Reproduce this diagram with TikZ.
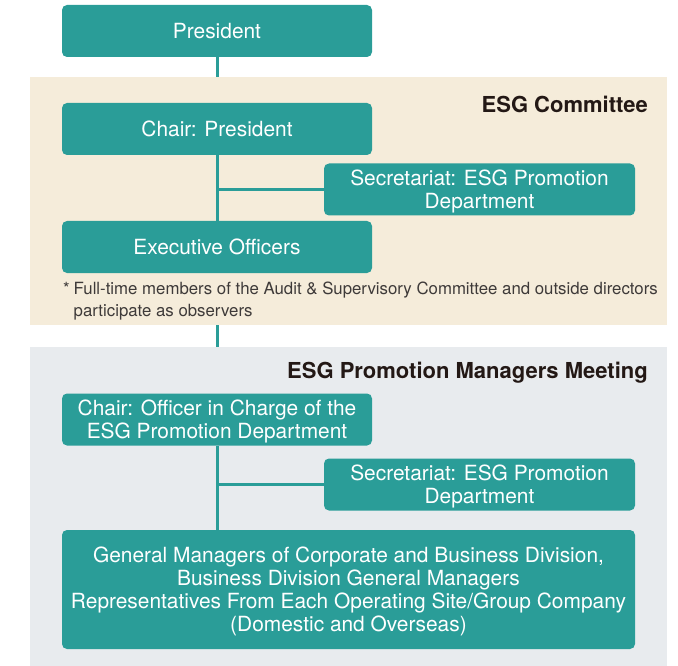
\documentclass[tikz,border=0pt]{standalone}
\usepackage{fontspec}
\setmainfont{TeX Gyre Heros}
\definecolor{teal1}{HTML}{2A9D98}
\definecolor{beigebg}{HTML}{F5ECDA}
\definecolor{graybg}{HTML}{E8EBEE}
\definecolor{titlecol}{HTML}{231815}
\definecolor{notecol}{HTML}{3E3A39}
\begin{document}
\begin{tikzpicture}[x=1pt,y=-1pt,
  box/.style={draw=none, fill=teal1, rounded corners=5pt, text=white, align=center,
    inner sep=0pt, minimum height=52pt, minimum width=310pt,
    font=\fontsize{20.9}{23}\selectfont},
  boxtext/.style={inner sep=0pt, text=white, align=center, font=\fontsize{20.9}{23}\selectfont},
  bg/.style={draw=none, inner sep=0pt, outer sep=0pt},
  conn/.style={draw=teal1, line width=3pt},
  sectitle/.style={anchor=east, inner sep=0pt, text=titlecol, font=\fontsize{22}{25}\selectfont\bfseries}
]
\useasboundingbox (0,0) rectangle (678,666);
\node[bg, fill=beigebg, minimum width=637pt, minimum height=248pt] (beige) at (348.5,201) {};
\node[bg, fill=graybg, minimum width=637pt, minimum height=319pt] (gray) at (348.5,506.5) {};

\node[box] (pres) at (217,31) {President};
\node[box] (chair1) at (217,129) {Chair: President};
\node[box, minimum width=311pt] (sec1) at (479.5,189.5) {};
\node[boxtext, yshift=-2pt] (sec1t) at (sec1.center) {Secretariat: ESG Promotion\\Department};
\node[box] (exec) at (217,247) {Executive Officers};

\node[box] (chair2) at (217,419.5) {};
\node[boxtext, yshift=-2pt] (chair2t) at (chair2.center) {Chair: Officer in Charge of the\\ESG Promotion Department};
\node[box, minimum width=311pt] (sec2) at (479.5,484.5) {};
\node[boxtext, yshift=-2pt] (sec2t) at (sec2.center) {Secretariat: ESG Promotion\\Department};
\node[box, minimum width=573pt, minimum height=119pt] (gm) at (348.5,589.5) {};
\node[boxtext, yshift=-2pt] (gmt) at (gm.center)
  {General Managers of Corporate and Business Division,\\Business Division General Managers\\Representatives From Each Operating Site/Group Company\\(Domestic and Overseas)};

\node[sectitle] (t1) at (648,104) {ESG Committee};
\node[sectitle] (t2) at (648,372.5) {ESG Promotion Managers Meeting};

\node[anchor=north west, inner sep=0pt, align=left, text=notecol,
  font=\fontsize{16.8}{22.5}\selectfont] (note) at (63,281.5)
  {*\hspace{4pt}Full-time members of the Audit \& Supervisory Committee and outside directors\\
   \phantom{*}\hspace{4pt}participate as observers};

\draw[conn] (pres.south) -- (pres.south |- beige.north);
\draw[conn] (chair1.south) -- (exec.north);
\draw[conn] (chair1.south |- sec1.west) -- (sec1.west);
\draw[conn] (exec.south |- beige.south) -- (exec.south |- gray.north);
\draw[conn] (chair2.south) -- (gm.north -| chair2.south);
\draw[conn] (chair2.south |- sec2.west) -- (sec2.west);
\end{tikzpicture}
\end{document}
